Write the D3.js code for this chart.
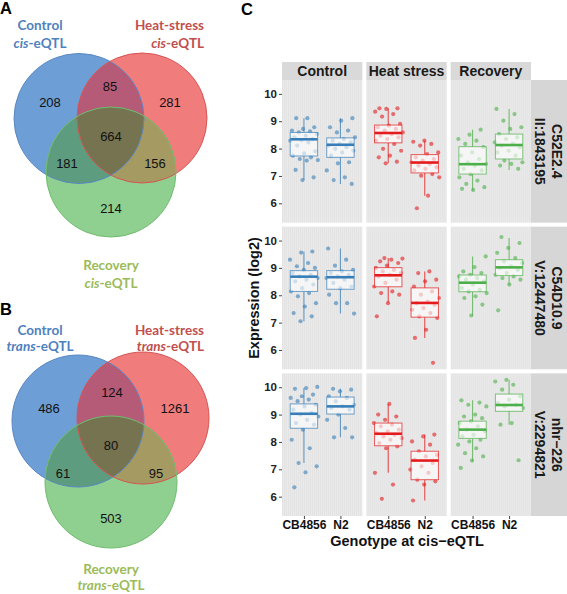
<!DOCTYPE html>
<html><head><meta charset="utf-8">
<script src="https://cdn.jsdelivr.net/npm/d3@7"></script>
<style>body{margin:0;background:#fff}svg{display:block}</style>
</head><body>
<svg id="c" width="567" height="594"></svg>
<script>
// ---------------- DATA ----------------
// Venn region order: [A only, B only, C only, A∩B, A∩C, B∩C, A∩B∩C]
const vennSets = ["Control", "Heat-stress", "Recovery"];
const cisCounts = [208, 281, 214, 85, 181, 156, 664];
const transCounts = [486, 1261, 503, 124, 61, 95, 80];

const conditions = ["Control", "Heat stress", "Recovery"];
const genotypes = ["CB4856", "N2"];
const geneLabels = [["C52E2.4", "II:1843195"], ["C54D10.9", "V:12447480"], ["nhr\u2212226", "V:2294821"]];
const yTicks = [6, 7, 8, 9, 10];

// points per gene: [Control CB, Control N2, Heat CB, Heat N2, Recovery CB, Recovery N2]
const pointsC52E2 = [
  [9.11,9.11,8.78,8.72,8.66,8.63,8.59,8.53,8.47,8.41,8.35,8.31,8.29,8.23,8.11,7.90,7.83,7.74,7.68,7.62,7.58,7.56,7.22,6.95,6.85],
  [9.11,9.02,8.78,8.66,8.59,8.41,8.35,8.29,8.23,8.17,8.11,8.05,7.99,7.92,7.86,7.74,7.50,7.46,7.20,6.95,6.85,6.71],
  [9.47,9.47,9.45,9.35,9.26,9.17,8.90,8.84,8.78,8.72,8.66,8.59,8.53,8.47,8.41,8.35,8.29,8.17,7.99,7.92,7.74,7.68,7.52,7.46],
  [8.29,8.25,8.17,8.11,7.86,7.80,7.68,7.62,7.56,7.50,7.44,7.38,7.32,7.26,7.20,7.07,7.01,6.95,6.28,5.82],
  [8.69,8.51,8.35,8.29,8.17,8.05,7.86,7.74,7.62,7.50,7.44,7.38,7.26,7.20,7.07,6.95,6.83,6.71,6.59,6.49,6.53],
  [9.45,9.26,9.02,8.78,8.72,8.53,8.41,8.35,8.23,8.17,8.11,8.05,7.92,7.86,7.74,7.56,7.50,7.44,7.38,7.26]
];
const pointsC54D10 = [
  [9.60,9.56,9.30,9.18,9.06,9.00,8.93,8.81,8.75,8.69,8.63,8.57,8.51,8.39,8.26,8.14,8.08,7.96,7.71,7.59,7.35,7.23,7.05],
  [9.71,9.30,9.08,8.93,8.87,8.81,8.75,8.69,8.63,8.57,8.45,8.32,8.26,8.02,7.71,7.71,7.33],
  [9.36,9.34,9.30,9.24,9.18,9.08,9.00,8.93,8.87,8.81,8.75,8.69,8.57,8.45,8.32,8.14,8.08,8.02,7.71,7.23],
  [8.87,8.81,8.57,8.51,8.32,8.14,8.02,7.90,7.77,7.71,7.65,7.53,7.47,7.35,7.23,7.17,6.74,6.44,5.53],
  [9.42,9.03,8.87,8.81,8.75,8.69,8.63,8.57,8.51,8.39,8.26,8.20,8.14,8.08,7.96,7.90,7.66,7.26],
  [10.13,9.91,9.73,9.55,9.36,9.24,9.18,9.06,9.00,8.93,8.81,8.75,8.69,8.63,8.57,8.39,7.45]
];
const pointsNhr226 = [
  [10.01,9.97,9.94,9.73,9.67,9.61,9.55,9.49,9.36,9.30,9.18,9.06,9.00,8.93,8.81,8.69,8.63,8.45,8.08,7.77,7.23,7.11,6.89,6.34],
  [9.94,9.91,9.85,9.67,9.61,9.49,9.36,9.30,9.24,9.18,9.00,8.81,8.51,8.17,8.17],
  [9.39,9.00,8.93,8.81,8.69,8.63,8.57,8.45,8.39,8.32,8.26,8.20,8.14,8.08,7.96,7.84,7.77,6.87,6.44,5.92],
  [8.27,8.20,8.02,7.90,7.66,7.53,7.47,7.35,7.23,7.11,6.99,6.87,6.62,6.56,6.44,5.86],
  [9.52,9.44,9.36,9.30,9.00,8.93,8.87,8.75,8.69,8.57,8.45,8.39,8.26,8.20,8.08,8.02,7.90,7.77,7.59,7.47,7.32,7.05],
  [10.27,10.21,10.09,9.91,9.67,9.55,9.42,9.36,9.30,9.24,8.69,8.63,7.33]
];
// box stats per group: [whisker low, q1, median, q3, whisker high]
const boxC52E2 = [
  [6.85,7.73,8.34,8.59,9.11],[6.71,7.68,8.14,8.39,9.11],
  [7.46,8.21,8.57,8.86,9.47],[6.28,7.11,7.49,7.78,8.29],
  [6.47,7.07,7.43,8.07,8.69],[7.22,7.62,8.13,8.53,9.45]
];
const boxC54D10 = [
  [7.05,8.14,8.68,8.90,9.60],[7.33,8.22,8.66,8.90,9.71],
  [7.74,8.31,8.73,9.01,9.36],[6.44,7.20,7.72,8.27,8.87],
  [7.26,8.13,8.46,8.74,9.42],[8.39,8.72,9.02,9.30,10.09]
];
const boxNhr226 = [
  [7.23,8.50,9.03,9.39,9.97],[8.17,9.02,9.30,9.64,9.94],
  [6.87,7.86,8.30,8.69,9.39],[5.86,6.62,7.32,7.66,8.27],
  [7.29,8.13,8.45,8.76,9.52],[8.63,9.12,9.35,9.75,10.27]
];

// ---------------- DRAW ----------------
const svg = d3.select("#c");
const defs = svg.append("defs");
const FONT = "'Liberation Sans', Arial, sans-serif";
const LFONT = "Lato, 'Open Sans', sans-serif";

// panel letters
[["A", 0, 14], ["B", 0, 315], ["C", 241, 15]].forEach(([t, x, y]) =>
  svg.append("text").attr("x", x).attr("y", y).text(t)
    .attr("font-family", FONT).attr("font-weight", "bold").attr("font-size", 16.5).attr("fill", "#000"));

// ---- Venn ----
const singleCol = ["#6d9ed5", "#f07c7c", "#8fcf8f"];
const pairCol = ["#b55b77", "#5d9c7e", "#a59a62"]; // AB, AC, BC
const tripleCol = "#757350";
const strokeCol = ["#5a88c2", "#d65454", "#6fbd6f"];
const labelCol = ["#4f81bd", "#c0504d", "#9bbb59"];

function drawVenn(prefix, circles, counts, anchors, suffix, labelPos, lineGap) {
  const g = svg.append("g");
  circles.forEach((c, i) => defs.append("clipPath").attr("id", prefix + i)
    .append("circle").attr("cx", c[0]).attr("cy", c[1]).attr("r", c[2]));
  g.selectAll("circle.s").data(circles).join("circle").attr("class", "s")
    .attr("cx", d => d[0]).attr("cy", d => d[1]).attr("r", d => d[2])
    .attr("fill", (d, i) => singleCol[i]);
  [[0, 1], [0, 2], [1, 2]].forEach(([a, b], k) => {
    const c = circles[b];
    g.append("g").attr("clip-path", `url(#${prefix}${a})`).append("circle")
      .attr("cx", c[0]).attr("cy", c[1]).attr("r", c[2]).attr("fill", pairCol[k]);
  });
  const c2 = circles[2];
  g.append("g").attr("clip-path", `url(#${prefix}0)`).append("g").attr("clip-path", `url(#${prefix}1)`)
    .append("circle").attr("cx", c2[0]).attr("cy", c2[1]).attr("r", c2[2]).attr("fill", tripleCol);
  g.selectAll("circle.o").data(circles).join("circle").attr("class", "o")
    .attr("cx", d => d[0]).attr("cy", d => d[1]).attr("r", d => d[2])
    .attr("fill", "none").attr("stroke", (d, i) => strokeCol[i]).attr("stroke-width", 1);
  g.selectAll("text.n").data(counts).join("text").attr("class", "n")
    .attr("x", (d, i) => anchors[i][0]).attr("y", (d, i) => anchors[i][1])
    .attr("text-anchor", "middle").attr("dominant-baseline", "central")
    .attr("font-family", FONT).attr("font-size", 13).attr("fill", "#111").text(d => d);
  vennSets.forEach((s, i) => {
    const [x, y, anchor] = labelPos[i];
    g.append("text").attr("x", x).attr("y", y).attr("text-anchor", anchor)
      .attr("font-family", LFONT).attr("font-weight", "bold").attr("font-size", 13.5)
      .attr("fill", labelCol[i]).text(s);
    const t2 = g.append("text").attr("x", x).attr("y", y + lineGap).attr("text-anchor", anchor)
      .attr("font-family", LFONT).attr("font-weight", "bold").attr("font-size", 13.5)
      .attr("fill", labelCol[i]);
    t2.append("tspan").attr("font-style", "italic").text(suffix);
    t2.append("tspan").text("-eQTL");
  });
}

drawVenn("va", [[79, 118.5, 65], [142, 118, 65], [111, 172, 65]], cisCounts,
  [[50, 102], [170, 102], [111, 208], [110, 86], [67, 163], [155, 163], [111, 136]], "cis",
  [[40, 30, "middle"], [204, 30, "end"], [111, 270, "middle"]], 17.5);
drawVenn("vb", [[78, 421, 66], [143, 418, 66], [111, 482, 66]], transCounts,
  [[49, 408], [175, 408], [111, 518], [112, 392], [63, 473], [156, 473], [111, 445]], "trans",
  [[40, 335, "middle"], [204, 335, "end"], [111, 574, "middle"]], 16);

// ---- Facet box plots ----
const genePoints = [pointsC52E2, pointsC54D10, pointsNhr226];
const geneBoxes = [boxC52E2, boxC54D10, boxNhr226];
const condCol = ["#377eb8", "#e41a1c", "#4daf4a"];

const colScale = d3.scaleBand().domain(conditions).range([282, 531]).paddingInner(0.0474).paddingOuter(0);
const rowScale = d3.scaleBand().domain(d3.range(3)).range([80, 516]).paddingInner(0.0275).paddingOuter(0);
const allVals = genePoints.flat(2);
const ext = d3.extent(allVals);
const pad = (ext[1] - ext[0]) * 0.05;
const yDomain = [ext[0] - pad, ext[1] + pad];

// background pattern (fine vertical texture)
const pat = defs.append("pattern").attr("id", "bgp").attr("width", 2).attr("height", 4)
  .attr("patternUnits", "userSpaceOnUse");
pat.append("rect").attr("width", 2).attr("height", 4).attr("fill", "#eaeaea");
pat.append("rect").attr("width", 1).attr("height", 4).attr("fill", "#e3e3e3");

// top strips
conditions.forEach((c) => {
  svg.append("rect").attr("x", colScale(c)).attr("y", 62).attr("width", colScale.bandwidth()).attr("height", 18)
    .attr("fill", "#d9d9d9");
  svg.append("text").attr("x", colScale(c) + colScale.bandwidth() / 2).attr("y", 76)
    .attr("text-anchor", "middle").attr("font-family", FONT).attr("font-weight", "bold")
    .attr("font-size", 14).attr("fill", "#1a1a1a").text(c);
});

const xScale = d3.scalePoint().domain(genotypes).range([0, colScale.bandwidth()]).padding(0.6);
const step = xScale.step();

genePoints.forEach((pts, gi) => {
  const y0 = rowScale(gi), h = rowScale.bandwidth();
  const y = d3.scaleLinear().domain(yDomain).range([y0 + h, y0]);
  // right strip
  svg.append("rect").attr("x", 531).attr("y", y0).attr("width", 36).attr("height", h).attr("fill", "#d6d6d6");
  geneLabels[gi].forEach((t, li) => {
    const tx = li === 0 ? 557 : 540;
    svg.append("text").attr("transform", `translate(${tx},${y0 + h / 2}) rotate(90)`)
      .attr("text-anchor", "middle").attr("dominant-baseline", "central")
      .attr("font-family", FONT).attr("font-weight", "bold").attr("font-size", 14)
      .attr("fill", "#1a1a1a").text(t);
  });
  // y axis
  const ax = svg.append("g").attr("transform", "translate(282,0)")
    .call(d3.axisLeft(y).tickValues(yTicks).tickSize(3).tickPadding(2).tickFormat(d3.format("d")));
  ax.select(".domain").remove();
  ax.selectAll("line").attr("stroke", "#444");
  ax.selectAll("text").attr("font-family", FONT).attr("font-weight", "bold").attr("font-size", 11.5).attr("fill", "#222");

  conditions.forEach((c, ci) => {
    const px = colScale(c);
    const pg = svg.append("g").attr("transform", `translate(${px},0)`);
    pg.append("rect").attr("x", 0).attr("y", y0).attr("width", colScale.bandwidth()).attr("height", h)
      .attr("fill", "url(#bgp)");
    genotypes.forEach((gt, ki) => {
      const idx = ci * 2 + ki;
      const vals = pts[idx];
      const st = geneBoxes[gi][idx];
      const cx = xScale(gt);
      const col = condCol[ci];
      // jittered points (deterministic spread)
      pg.selectAll(null).data(vals).join("circle")
        .attr("cx", (d, i) => cx + ((((i + 1) * 0.618034 + idx * 0.29 + gi * 0.17) % 1) - 0.5) * 0.8 * step)
        .attr("cy", d => y(d)).attr("r", 2.1)
        .attr("fill", col).attr("fill-opacity", 0.6);
      const bw = 0.75 * step;
      // whiskers
      pg.append("line").attr("x1", cx).attr("x2", cx).attr("y1", y(st[3])).attr("y2", y(st[4]))
        .attr("stroke", col).attr("stroke-opacity", 0.75).attr("stroke-width", 1.1);
      pg.append("line").attr("x1", cx).attr("x2", cx).attr("y1", y(st[1])).attr("y2", y(st[0]))
        .attr("stroke", col).attr("stroke-opacity", 0.75).attr("stroke-width", 1.1);
      // box
      pg.append("rect").attr("x", cx - bw / 2).attr("y", y(st[3])).attr("width", bw)
        .attr("height", y(st[1]) - y(st[3]))
        .attr("fill", "#ffffff").attr("fill-opacity", 0.62)
        .attr("stroke", col).attr("stroke-opacity", 0.7).attr("stroke-width", 1);
      // median
      pg.append("line").attr("x1", cx - bw / 2).attr("x2", cx + bw / 2).attr("y1", y(st[2])).attr("y2", y(st[2]))
        .attr("stroke", col).attr("stroke-width", 2.6);
    });
    if (gi === 2) {
      const xa = pg.append("g").attr("transform", `translate(0,${y0 + h})`)
        .call(d3.axisBottom(xScale).tickSize(3).tickPadding(1));
      xa.select(".domain").remove();
      xa.selectAll("line").attr("stroke", "#444");
      xa.selectAll("text").attr("font-family", FONT).attr("font-weight", "bold").attr("font-size", 12)
        .attr("fill", "#111").attr("dy", null).attr("y", 13);
    }
  });
});

// axis titles
svg.append("text").attr("transform", `translate(259,${(80 + 516) / 2}) rotate(-90)`)
  .attr("text-anchor", "middle").attr("font-family", FONT).attr("font-weight", "bold")
  .attr("font-size", 14.5).attr("fill", "#111").text("Expression (log2)");
svg.append("text").attr("x", 407).attr("y", 546).attr("text-anchor", "middle")
  .attr("font-family", FONT).attr("font-weight", "bold").attr("font-size", 14.5).attr("fill", "#111")
  .text("Genotype at cis\u2212eQTL");
</script></body></html>
